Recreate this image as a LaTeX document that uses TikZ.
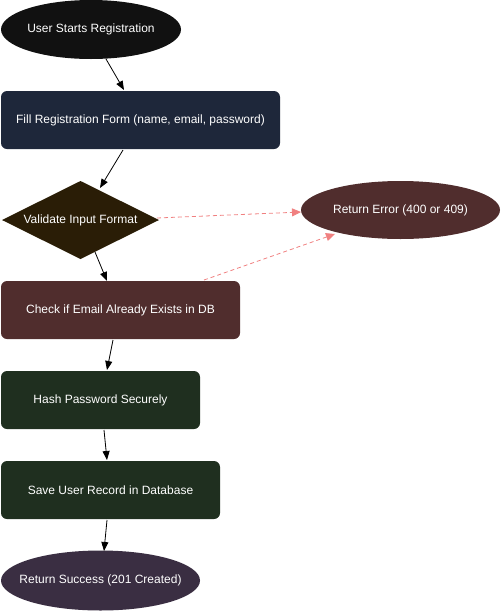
\documentclass[tikz,border=0pt]{standalone}
\usepackage{fontspec}
\setmainfont{Liberation Sans}
\usetikzlibrary{shapes.geometric,arrows.meta}
\definecolor{cstart}{HTML}{111111}
\definecolor{cfill}{HTML}{1E273A}
\definecolor{cdiam}{HTML}{2A1D06}
\definecolor{cerr}{HTML}{502D2D}
\definecolor{cgreen}{HTML}{1F2F1F}
\definecolor{csucc}{HTML}{3A2E42}
\definecolor{cdash}{HTML}{F08080}
\newcommand{\ztext}[1]{\makebox[0pt]{#1}}
\tikzset{
  base/.style={text=white, font=\fontsize{12pt}{14pt}\selectfont, inner sep=0pt, outer sep=0pt},
  oval/.style={base, ellipse, minimum width=#1, minimum height=59pt},
  boxnode/.style={base, rectangle, rounded corners=6pt, minimum height=58pt, minimum width=#1},
  decision/.style={base, diamond, aspect=2, minimum width=157pt, minimum height=78pt},
  flow/.style={draw=black, line width=0.8pt, -{Triangle[length=9pt,width=7pt]}},
  errflow/.style={draw=cdash, line width=0.8pt, dashed, dash pattern=on 4pt off 3pt, -{Triangle[length=9pt,width=8pt]}}
}
\begin{document}
\begin{tikzpicture}[x=1pt,y=-1pt]
\useasboundingbox (0,0) rectangle (501,611);
\node[oval=180pt, fill=cstart] (start) at (91,29.5) {\ztext{User Starts Registration}};
\node[boxnode=279pt, fill=cfill] (form) at (140.5,120) {Fill Registration Form (name, email, password)};
\node[decision, fill=cdiam] (valid) at (80.5,220) {\ztext{Validate Input Format}};
\node[oval=199pt, fill=cerr, minimum height=58pt] (err) at (400.5,210) {\ztext{Return Error (400 or 409)}};
\node[boxnode=239pt, fill=cerr] (check) at (120.5,310) {Check if Email Already Exists in DB};
\node[boxnode=199pt, fill=cgreen] (hash) at (100.5,400) {Hash Password Securely};
\node[boxnode=219pt, fill=cgreen] (save) at (110.5,490) {Save User Record in Database};
\node[oval=199pt, fill=csucc, minimum height=60pt] (succ) at (100.5,580.5) {\ztext{Return Success (201 Created)}};

\coordinate (a1) at (106,59);
\coordinate (a2) at (124,90);
\draw[flow] (a1) -- (a2);
\coordinate (b1) at (123,150);
\coordinate (b2) at (100,188);
\draw[flow] (b1) -- (b2);
\coordinate (c1) at (95,252);
\coordinate (c2) at (107,281);
\draw[flow] (c1) -- (c2);
\coordinate (d1) at (113,340);
\coordinate (d2) at (107,370);
\draw[flow] (d1) -- (d2);
\coordinate (e1) at (104,430);
\coordinate (e2) at (107,460);
\draw[flow] (e1) -- (e2);
\coordinate (f1) at (107,520);
\coordinate (f2) at (104,551);
\draw[flow] (f1) -- (f2);

\coordinate (g1) at (157,218);
\coordinate (g2) at (301,212);
\draw[errflow] (g1) -- (g2);
\coordinate (h1) at (204,280);
\coordinate (h2) at (335,234);
\draw[errflow] (h1) -- (h2);
\end{tikzpicture}
\end{document}
